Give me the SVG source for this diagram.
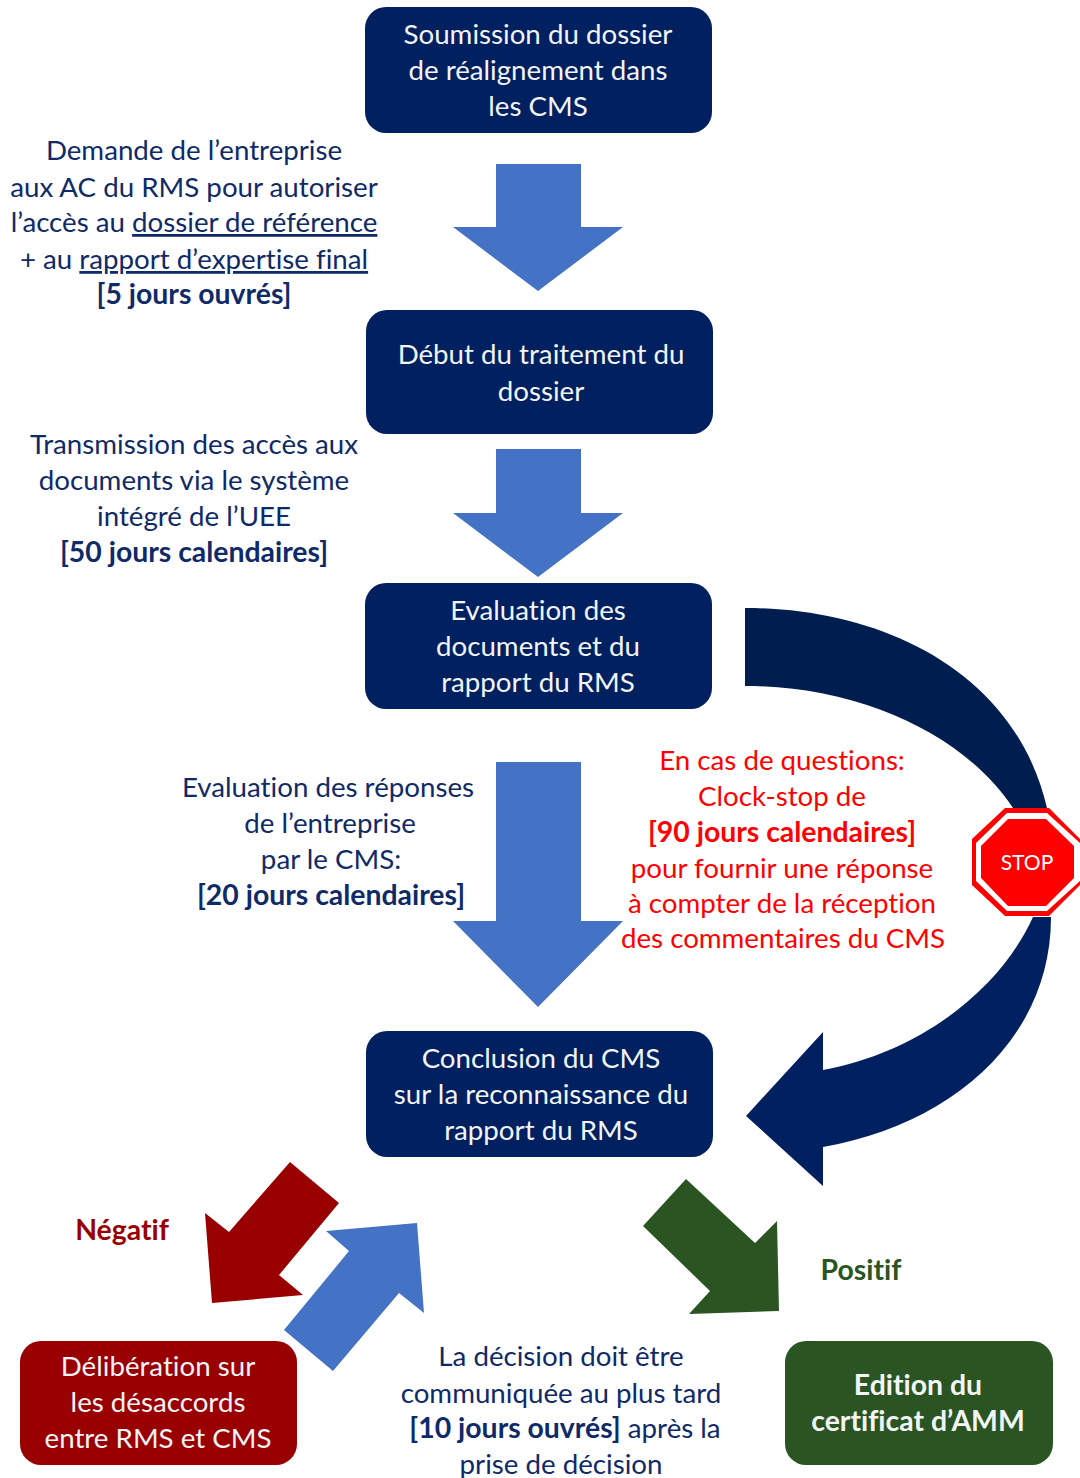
<svg xmlns="http://www.w3.org/2000/svg" width="1080" height="1478" viewBox="0 0 1080 1478">
<style>
text{font-family:"Lato","Carlito","Open Sans",sans-serif;font-size:27.7px;text-anchor:middle;fill:#0f2a68;font-variant-ligatures:none}
.n{fill:#002060}
.w{fill:#f2f4f8}
.b{font-weight:700;font-size:28.4px}
.r{fill:#ff0000}
.a{fill:#4472c4}
.u{text-decoration:underline}
</style>
<rect width="1080" height="1478" fill="#fff"/>
<g id="connectors">
<path class="a" d="M496 164H581V227H623L538 291L453 227H496Z"/>
<path class="a" d="M496 449H581V513H623L538 577L453 513H496Z"/>
<path class="a" d="M496 762H581V921H623L538 1007L453 921H496Z"/>
<path fill="#001d50" d="M745 608C880 608 1015 670 1047 808H1013C965 735 860 686 745 686Z"/>
<path fill="#002060" d="M1051 917C1051 1040 950 1125 823 1147V1186L746 1116L823 1032V1070C920 1052 1000 990 1033 917Z"/>
<path fill="#990000" d="M290 1162L339 1203L279 1275L303 1295L212 1303L205 1213L229 1232Z"/>
<path class="a" d="M417 1223L424 1313L399 1293L333 1371L284 1330L349 1251L326 1231Z"/>
<path fill="#2a5522" d="M686 1179L755 1243L777 1221L779 1311L689 1314L710 1291L643 1226Z"/>
</g>
<g id="node-soumission"><rect class="n" x="365" y="7" width="347" height="126" rx="21"/>
<text class="w" x="538" y="44">Soumission du dossier</text><text class="w" x="538" y="80">de réalignement dans</text><text class="w" x="538" y="116">les CMS</text></g>
<g id="node-debut"><rect class="n" x="366" y="310" width="347" height="124" rx="21"/>
<text class="w" x="541" y="364">Début du traitement du</text><text class="w" x="541" y="401">dossier</text></g>
<g id="node-evaluation"><rect class="n" x="365" y="583" width="347" height="126" rx="21"/>
<text class="w" x="538" y="620">Evaluation des</text><text class="w" x="538" y="656">documents et du</text><text class="w" x="538" y="692">rapport du RMS</text></g>
<g id="node-conclusion"><rect class="n" x="366" y="1031" width="347" height="126" rx="21"/>
<text class="w" x="541" y="1068">Conclusion du CMS</text><text class="w" x="541" y="1104">sur la reconnaissance du</text><text class="w" x="541" y="1140">rapport du RMS</text></g>
<g id="node-deliberation"><rect fill="#990000" x="20" y="1341" width="277" height="124" rx="21"/>
<text class="w" x="158" y="1376">Délibération sur</text><text class="w" x="158" y="1412">les désaccords</text><text class="w" x="158" y="1448">entre RMS et CMS</text></g>
<g id="node-edition"><rect fill="#2a5522" x="785" y="1341" width="268" height="124" rx="21"/>
<text class="w b" x="918" y="1395">Edition du</text><text class="w b" x="918" y="1431">certificat d’AMM</text></g>
<g id="stop"><path fill="#ff0000" d="M1005 808H1049L1080 839V885L1049 916H1005L972 885V839Z"/>
<path fill="#fff" d="M1007 813H1047L1080 843V881L1047 911H1007L976 881V843Z"/>
<path fill="#ff0000" d="M1008 819H1046L1074 846V878L1046 906H1008L981 878V846Z"/>
<text x="1027" y="870" style="font-size:21px;fill:#fff">STOP</text></g>
<g id="labels">
<text x="194" y="160">Demande de l’entreprise</text>
<text x="194" y="197">aux AC du RMS pour autoriser</text>
<text x="194" y="232">l’accès au <tspan class="u">dossier de référence</tspan></text>
<text x="194" y="269">+ au <tspan class="u">rapport d’expertise final</tspan></text>
<text class="b" x="194" y="304">[5 jours ouvrés]</text>
<text x="194" y="454">Transmission des accès aux</text>
<text x="194" y="490">documents via le système</text>
<text x="194" y="526">intégré de l’UEE</text>
<text class="b" x="194" y="562">[50 jours calendaires]</text>
<text x="328" y="797">Evaluation des réponses</text>
<text x="330" y="833">de l’entreprise</text>
<text x="331" y="869">par le CMS:</text>
<text class="b" x="331" y="905">[20 jours calendaires]</text>
<text class="r" x="782" y="770">En cas de questions:</text>
<text class="r" x="782" y="806">Clock-stop de</text>
<text class="r b" x="782" y="842">[90 jours calendaires]</text>
<text class="r" x="782" y="878">pour fournir une réponse</text>
<text class="r" x="782" y="913">à compter de la réception</text>
<text class="r" x="783" y="948">des commentaires du CMS</text>
<text class="b" x="122" y="1240" style="fill:#990000">Négatif</text>
<text class="b" x="861" y="1280" style="fill:#2a5522">Positif</text>
<text x="561" y="1366">La décision doit être</text>
<text x="561" y="1403">communiquée au plus tard</text>
<text x="565" y="1438"><tspan class="b">[10 jours ouvrés]</tspan> après la</text>
<text x="561" y="1474">prise de décision</text>
</g>
</svg>
